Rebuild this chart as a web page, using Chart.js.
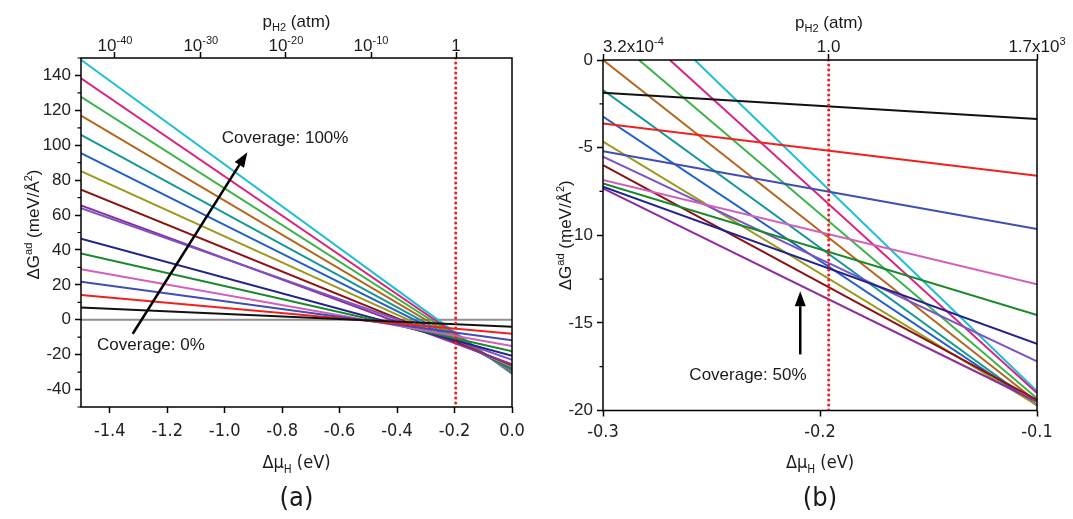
<!DOCTYPE html>
<html>
<head>
<meta charset="utf-8">
<script src="https://cdn.jsdelivr.net/npm/chart.js@4.4.1/dist/chart.umd.min.js"></script>
<style>
  html, body { margin: 0; padding: 0; background: #fff; }
  #wrap { position: relative; width: 1073px; height: 519px; overflow: hidden; }
  #ca { position: absolute; left: 0; top: 0; }
  #cb { position: absolute; left: 540px; top: 0; }
</style>
</head>
<body>
<div id="wrap">
  <canvas id="ca" width="540" height="519"></canvas>
  <canvas id="cb" width="533" height="519"></canvas>
</div>
<script>
// ---- data ------------------------------------------------------------------
// one entry per coverage line, lowest slope (black) to steepest (cyan)
const lineColors = ['#111111', '#f2201c', '#3d4fb5', '#d35fbd', '#17892a', '#23238c', '#7b54c4', '#8e2f9e',
                    '#8c1212', '#9c9a1e', '#2461c6', '#15979a', '#b5651d', '#3bb34a', '#d8247f', '#22bfd3'];

// panel (a): ΔG^ad (meV/Å²) at Δμ_H = -1.5 eV and 0.0 eV
const aStartX = -1.5;
const aEndX = 0.0;
const aStartY = [7, 14.2, 21.8, 29, 38, 46.5, 64, 65.5, 74.5, 85.2, 95.5, 106, 117, 127.7, 138.4, 149];
const aEndY = [-4, -8, -11.8, -15, -18, -20.6, -23, -25.5, -26, -27, -28, -28.7, -29.3, -29.8, -30.3, -31];

// panel (b): lines enter at Δμ_H = -0.3 (or at the top edge) and leave at -0.1
const bStartX = [-0.3, -0.3, -0.3, -0.3, -0.3, -0.3, -0.3, -0.3, -0.3, -0.3, -0.3, -0.3, -0.3, -0.2834, -0.2692, -0.2577];
const bStartY = [-1.87, -3.62, -5.2, -6.85, -7.04, -7.23, -5.52, -7.33, -6.0, -4.66, -3.23, -1.71, 0, 0, 0, 0];
const bEndX = -0.1;
const bEndY = [-3.37, -6.6, -9.65, -12.8, -14.56, -16.2, -17.2, -19.5, -19.4, -19.7, -19.7, -19.7, -19.5, -19.3, -19.0, -18.9];

// p_H2 = 1 atm marker
const refMu = -0.196;

// axis ticks
const aXTicks = [-1.4, -1.2, -1.0, -0.8, -0.6, -0.4, -0.2, 0.0];
const aYTicks = [-40, -20, 0, 20, 40, 60, 80, 100, 120, 140];
const aYMinor = [-50, -30, -10, 10, 30, 50, 70, 90, 110, 130, 150];
const aTopTicks = [-1.3817, -1.083, -0.787, -0.4906, -0.1947];
const aTopLabels = ['10^-40', '10^-30', '10^-20', '10^-10', '1'];

const bXTicks = [-0.3, -0.2, -0.1];
const bYTicks = [-20, -15, -10, -5, 0];
const bYMinor = [-17.5, -12.5, -7.5, -2.5];
const bTopTicks = [-0.3, refMu, -0.1];
const bTopLabels = ['3.2x10^-4', '1.0', '1.7x10^3'];

// ---- fonts -----------------------------------------------------------------
const FONT = '"Liberation Sans", Arimo, Arial, sans-serif';
const NARROW = '"Liberation Sans Narrow", "DejaVu Sans Condensed", "Liberation Sans", Arial, sans-serif';
Chart.defaults.font.family = FONT;
Chart.defaults.color = '#1a1a1a';

// ---- rich text helpers (sub/superscripts) ------------------------------------
function richWidth(ctx, parts, size, family) {
  let w = 0;
  parts.forEach(([t, k]) => {
    ctx.font = `${k ? size * 0.65 : size}px ${family}`;
    w += ctx.measureText(t).width;
  });
  return w;
}
function drawRich(ctx, parts, x, y, size, family, align) {
  const w = richWidth(ctx, parts, size, family);
  let cx = align === 'left' ? x : x - w / 2;
  ctx.textAlign = 'left';
  ctx.textBaseline = 'alphabetic';
  parts.forEach(([t, k]) => {
    ctx.font = `${k ? size * 0.65 : size}px ${family}`;
    const dy = k === 'sup' ? -size * 0.42 : k === 'sub' ? size * 0.25 : 0;
    ctx.fillText(t, cx, y + dy);
    cx += ctx.measureText(t).width;
  });
}
function supParts(s) {
  const [b, e] = s.split('^');
  return e ? [[b, ''], [e, 'sup']] : [[b, '']];
}

// ---- frame, minor ticks, titles, arrows -------------------------------------
const decorPlugin = {
  id: 'decor',
  afterDatasetsDraw(chart, args, o) {
    const ctx = chart.ctx, a = chart.chartArea;
    const xs = chart.scales.x, ys = chart.scales.y;
    ctx.save();
    ctx.strokeStyle = '#000';
    ctx.lineWidth = 1.5;
    ctx.strokeRect(a.left, a.top, a.right - a.left, a.bottom - a.top);

    ctx.lineWidth = 1.2;
    ctx.beginPath();
    (o.minorY || []).forEach((v) => {
      const p = ys.getPixelForValue(v);
      ctx.moveTo(a.left, p);
      ctx.lineTo(a.left - 3.5, p);
    });
    ctx.stroke();

    // arrows
    ctx.fillStyle = '#000';
    (o.arrows || []).forEach((ar) => {
      const x0 = xs.getPixelForValue(ar.from[0]), y0 = ys.getPixelForValue(ar.from[1]);
      const x1 = xs.getPixelForValue(ar.to[0]), y1 = ys.getPixelForValue(ar.to[1]);
      const ang = Math.atan2(y1 - y0, x1 - x0);
      const hl = 15, hw = 5.5;
      const bx = x1 - hl * Math.cos(ang), by = y1 - hl * Math.sin(ang);
      ctx.lineWidth = 2.5;
      ctx.beginPath();
      ctx.moveTo(x0, y0);
      ctx.lineTo(bx, by);
      ctx.stroke();
      ctx.beginPath();
      ctx.moveTo(x1, y1);
      ctx.lineTo(bx + hw * Math.sin(ang), by - hw * Math.cos(ang));
      ctx.lineTo(bx - hw * Math.sin(ang), by + hw * Math.cos(ang));
      ctx.closePath();
      ctx.fill();
    });

    // notes
    ctx.fillStyle = '#1a1a1a';
    ctx.font = `17px ${FONT}`;
    ctx.textAlign = 'left';
    ctx.textBaseline = 'middle';
    (o.notes || []).forEach((n) => {
      ctx.fillText(n.text, xs.getPixelForValue(n.x), ys.getPixelForValue(n.y));
    });
    ctx.restore();
  },
  afterDraw(chart, args, o) {
    const ctx = chart.ctx, a = chart.chartArea;
    const top = chart.scales.x2;
    const mid = (a.left + a.right) / 2;
    ctx.save();
    ctx.fillStyle = '#1a1a1a';

    // top axis labels
    o.topTicks.forEach((v, i) => {
      const parts = supParts(o.topLabels[i]);
      const w = richWidth(ctx, parts, 17, FONT);
      const left = Math.max(top.getPixelForValue(v) - w / 2, a.left);
      drawRich(ctx, parts, left, o.topLabelBase, 17, FONT, 'left');
    });
    drawRich(ctx, [['p', ''], ['H2', 'sub'], [' (atm)', '']], mid + o.topTitleShift, o.topTitleBase, 17, FONT, 'center');

    // bottom title and panel tag
    drawRich(ctx, [['\u0394\u03bc', ''], ['H', 'sub'], [' (eV)', '']], mid, o.xTitleBase, 18, NARROW, 'center');
    drawRich(ctx, [[o.tag, '']], mid, o.tagBase, 27, NARROW, 'center');

    // rotated y title
    ctx.translate(o.yTitleX, (a.top + a.bottom) / 2 + o.yTitleShift);
    ctx.rotate(-Math.PI / 2);
    drawRich(ctx, [['\u0394G', ''], ['ad', 'sup'], [' (meV/\u00c5', ''], ['2', 'sup'], [')', '']], 0, 0, 17, FONT, 'center');
    ctx.restore();
  }
};

// ---- chart builder -------------------------------------------------------------
function lineSets(xs0, ys0, xs1, ys1) {
  return lineColors.map((c, i) => ({
    data: [
      { x: Array.isArray(xs0) ? xs0[i] : xs0, y: ys0[i] },
      { x: Array.isArray(xs1) ? xs1[i] : xs1, y: ys1[i] }
    ],
    borderColor: c,
    borderWidth: 2,
    pointRadius: 0,
    clip: 0
  }));
}

function refLine(yMin, yMax) {
  return {
    data: [{ x: refMu, y: yMax }, { x: refMu, y: yMin }],
    borderColor: '#ee1c1c',
    borderWidth: 3,
    borderDash: [0.001, 5],
    borderCapStyle: 'round',
    pointRadius: 0,
    clip: 0
  };
}

function build(id, p) {
  const grid = { drawOnChartArea: false, drawTicks: true, tickLength: 6, tickColor: '#000', tickWidth: 1.5 };
  return new Chart(document.getElementById(id), {
    type: 'line',
    data: { datasets: p.datasets },
    plugins: [decorPlugin],
    options: {
      responsive: false,
      animation: false,
      events: [],
      layout: { padding: { left: 0, top: 0, right: p.rightPad, bottom: 0 } },
      plugins: { legend: { display: false }, tooltip: { enabled: false }, decor: p.decor },
      scales: {
        x: {
          type: 'linear', position: 'bottom', min: p.xMin, max: p.xMax,
          afterBuildTicks: (s) => { s.ticks = p.xTicks.map((v) => ({ value: v })); },
          afterFit: (s) => { s.height = p.bottomH; },
          ticks: { autoSkip: false, maxRotation: 0, padding: p.xPad, color: '#222',
                   font: { family: NARROW, size: 18 }, callback: (v) => Number(v).toFixed(1) },
          grid, border: { display: false }
        },
        x2: {
          type: 'linear', position: 'top', min: p.xMin, max: p.xMax,
          afterBuildTicks: (s) => { s.ticks = p.decor.topTicks.map((v) => ({ value: v })); },
          afterFit: (s) => { s.height = p.topH; },
          ticks: { display: false },
          grid, border: { display: false }
        },
        y: {
          type: 'linear', position: 'left', min: p.yMin, max: p.yMax,
          afterBuildTicks: (s) => { s.ticks = p.yTicks.map((v) => ({ value: v })); },
          afterFit: (s) => { s.width = p.leftW; },
          ticks: { padding: 4, color: '#222', font: { size: 17 }, callback: (v) => String(v) },
          grid, border: { display: false }
        }
      }
    }
  });
}

// ---- panel (a) -------------------------------------------------------------------
build('ca', {
  xMin: -1.5, xMax: 0, yMin: -50, yMax: 150,
  xTicks: aXTicks, yTicks: aYTicks,
  leftW: 81, topH: 58, bottomH: 112, rightPad: 28, xPad: 8,
  datasets: [
    refLine(-50, 150),
    ...lineSets(aStartX, aStartY, aEndX, aEndY),
    { data: [{ x: -1.5, y: 0 }, { x: 0, y: 0 }], borderColor: '#8f8f8f', borderWidth: 2, pointRadius: 0, clip: 0 }
  ],
  decor: {
    minorY: aYMinor,
    topTicks: aTopTicks, topLabels: aTopLabels, topLabelBase: 51, topTitleBase: 27, topTitleShift: 0,
    xTitleBase: 468, tag: '(a)', tagBase: 506, yTitleX: 39, yTitleShift: -8,
    arrows: [{ from: [-1.32, -8], to: [-0.921, 96] }],
    notes: [
      { text: 'Coverage: 100%', x: -1.01, y: 104 },
      { text: 'Coverage: 0%', x: -1.444, y: -14.7 }
    ]
  }
});

// ---- panel (b) -------------------------------------------------------------------
build('cb', {
  xMin: -0.3, xMax: -0.1, yMin: -20, yMax: 0,
  xTicks: bXTicks, yTicks: bYTicks,
  leftW: 63, topH: 60, bottomH: 108.5, rightPad: 36, xPad: 5,
  datasets: [
    refLine(-20, 0),
    ...lineSets(bStartX, bStartY, bEndX, bEndY)
  ],
  decor: {
    minorY: bYMinor,
    topTicks: bTopTicks, topLabels: bTopLabels, topLabelBase: 52, topTitleBase: 28, topTitleShift: 9,
    xTitleBase: 468, tag: '(b)', tagBase: 506, yTitleX: 31, yTitleShift: 0,
    arrows: [{ from: [-0.2091, -16.8], to: [-0.2091, -13.2] }],
    notes: [{ text: 'Coverage: 50%', x: -0.2602, y: -17.98 }]
  }
});
</script>
</body>
</html>
